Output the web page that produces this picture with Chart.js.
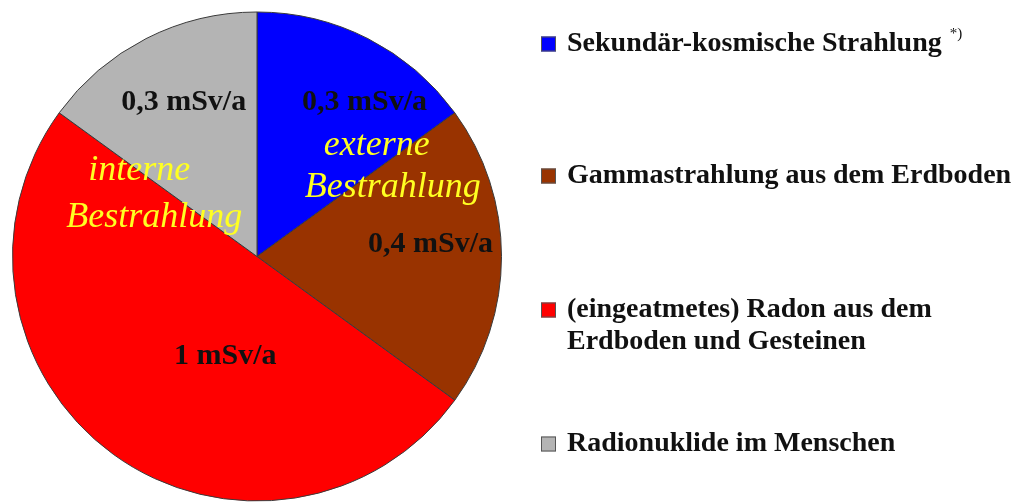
<!DOCTYPE html>
<html>
<head>
<meta charset="utf-8">
<script src="https://cdn.jsdelivr.net/npm/chart.js@4/dist/chart.umd.min.js"></script>
<style>
  html, body { margin: 0; padding: 0; background: #fff; }
  #wrap { width: 1014px; height: 503px; }
</style>
</head>
<body>
<div id="wrap"><canvas id="pie"></canvas></div>
<script>
// Data (mSv per year)
const categories = [
  'Sekundär-kosmische Strahlung',
  'Gammastrahlung aus dem Erdboden',
  '(eingeatmetes) Radon aus dem Erdboden und Gesteinen',
  'Radionuklide im Menschen'
];
const doses = [0.3, 0.4, 1, 0.3];
const doseLabels = ['0,3 mSv/a', '0,4 mSv/a', '1 mSv/a', '0,3 mSv/a'];
const legendLines = [
  ['Sekundär-kosmische Strahlung'],
  ['Gammastrahlung aus dem Erdboden'],
  ['(eingeatmetes) Radon aus dem', 'Erdboden und Gesteinen'],
  ['Radionuklide im Menschen']
];
const colors = ['#0000ff', '#993300', '#ff0000', '#b4b4b4'];

const serif = '"Liberation Serif", "Times New Roman", serif';

// label spots, as fractions of the radius from the pie centre
const labelSpots = [[0.44, -0.63], [0.71, -0.05], [-0.13, 0.41], [-0.30, -0.63]];

// slice labels plus the yellow "externe / interne Bestrahlung" notes
const sliceText = {
  id: 'sliceText',
  afterDatasetsDraw(chart) {
    const arc = chart.getDatasetMeta(0).data[0];
    const cx = arc.x, cy = arc.y, r = arc.outerRadius;
    const ctx = chart.ctx;
    ctx.save();
    ctx.textAlign = 'center';
    ctx.textBaseline = 'middle';
    ctx.fillStyle = '#111';
    ctx.font = 'bold 30px ' + serif;
    doseLabels.forEach((t, i) => {
      ctx.fillText(t, cx + labelSpots[i][0] * r, cy + labelSpots[i][1] * r);
    });
    ctx.fillStyle = '#ffff22';
    ctx.font = 'italic 36px ' + serif;
    ctx.fillText('externe', cx + 0.49 * r, cy - 0.455 * r);
    ctx.fillText('Bestrahlung', cx + 0.555 * r, cy - 0.284 * r);
    ctx.fillText('interne', cx - 0.482 * r, cy - 0.353 * r);
    ctx.fillText('Bestrahlung', cx - 0.42 * r, cy - 0.161 * r);
    ctx.restore();
  }
};

// legend on the right with wrapped entries
const sideLegend = {
  id: 'sideLegend',
  afterDraw(chart) {
    const ctx = chart.ctx;
    const rowY = [44, 176, 310, 444];
    ctx.save();
    ctx.textBaseline = 'middle';
    ctx.textAlign = 'left';
    legendLines.forEach((lines, i) => {
      ctx.fillStyle = colors[i];
      ctx.fillRect(541, rowY[i] - 7.5, 15, 15);
      ctx.strokeStyle = '#555';
      ctx.lineWidth = 1;
      ctx.strokeRect(541.5, rowY[i] - 7, 14, 14);
      ctx.fillStyle = '#111';
      ctx.font = 'bold 28px ' + serif;
      lines.forEach((ln, j) => ctx.fillText(ln, 567, rowY[i] + j * 32));
      if (i === 0) {
        const w = ctx.measureText(lines[0]).width;
        ctx.font = '15px ' + serif;
        ctx.fillText('*)', 567 + w + 8, rowY[i] - 10);
      }
    });
    ctx.restore();
  }
};

new Chart(document.getElementById('pie'), {
  type: 'pie',
  data: {
    labels: categories,
    datasets: [{
      data: doses,
      backgroundColor: colors,
      borderColor: '#3a3a3a',
      borderWidth: 1
    }]
  },
  options: {
    responsive: true,
    maintainAspectRatio: false,
    animation: false,
    layout: { padding: { left: 12, top: 11, bottom: 1, right: 512 } },
    plugins: {
      legend: { display: false },
      tooltip: { enabled: false }
    }
  },
  plugins: [sliceText, sideLegend]
});
</script>
</body>
</html>
